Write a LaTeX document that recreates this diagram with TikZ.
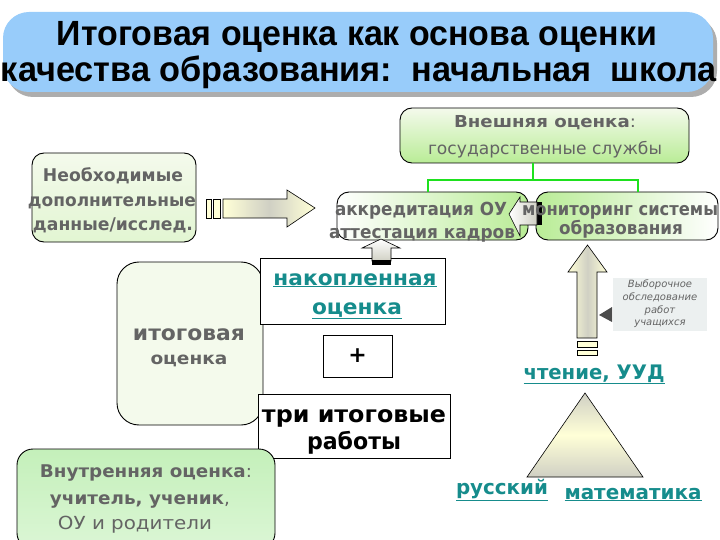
\documentclass[tikz,border=0pt]{standalone}
\usepackage{fontspec}
\setmainfont{DejaVu Sans}
\newfontfamily\titlefont{Liberation Sans}
\usetikzlibrary{shadows,calc}
\definecolor{titleblue}{RGB}{152,204,250}
\definecolor{txtgray}{RGB}{100,100,100}
\definecolor{linkteal}{RGB}{22,140,140}
\definecolor{lgreen}{RGB}{30,225,30}
\definecolor{boxgreen}{RGB}{185,236,150}
\definecolor{palegreen}{RGB}{244,250,236}
\definecolor{midgreen}{RGB}{196,240,186}
\definecolor{arrowgray}{RGB}{208,208,196}
\definecolor{arrowyel}{RGB}{255,255,215}
\definecolor{callgray}{RGB}{236,240,240}
\newcommand{\fw}[2]{\resizebox{#1pt}{\height}{#2}}
\tikzset{
  rbox/.style={draw=black, line width=0.9pt, rounded corners=12pt, inner sep=0pt},
  sbox/.style={draw=black, line width=0.8pt, fill=white, inner sep=0pt},
  gtxt/.style={text=txtgray, inner sep=0pt, anchor=base},
  ltxt/.style={text=linkteal, inner sep=0pt, anchor=base, font=\bfseries\fontsize{21}{24}\selectfont},
  blockarrow/.style={draw=black, line width=0.6pt},
  ttl/.style={anchor=base, inner sep=0pt, font=\titlefont\bfseries\fontsize{35}{40}\selectfont},
}
\begin{document}
\begin{tikzpicture}[x=1pt,y=-1pt]
\useasboundingbox (0,0) rectangle (720,540);
% title banner
\node[fill=titleblue, rounded corners=26pt, minimum width=710pt, minimum height=80pt, inner sep=0pt,
  drop shadow={shadow xshift=4pt, shadow yshift=-5pt, fill=black!40, opacity=0.8}] (title) at (358,52) {};
\node[ttl] (t1) at (357,46) {\fw{600}{Итоговая оценка как основа оценки}};
\node[ttl] (t2) at (359,82) {\fw{716}{качества образования:\ \ начальная\ \ школа}};

% external evaluation
\node[rbox, top color=palegreen, bottom color=boxgreen, minimum width=289pt, minimum height=55pt] (ext) at (544.5,135.5) {};
\node[gtxt, font=\bfseries\fontsize{16.5}{19}\selectfont] (ext1) at (545,128) {\fw{182}{Внешняя оценка\textmd{:}}};
\node[gtxt, font=\fontsize{17}{20}\selectfont] (ext2) at (545,155) {\fw{234}{государственные службы}};

% accreditation and monitoring boxes
\node[rbox, left color=white, right color=boxgreen, minimum width=191pt, minimum height=48pt] (akk) at (432.5,216) {};
\node[rbox, left color=boxgreen, right color=white, minimum width=182pt, minimum height=48pt] (mon) at (627,216) {};
\coordinate (split) at (533,180);
\draw[lgreen, line width=2.6pt] (ext.south -| split) -- (split);
\draw[lgreen, line width=2.6pt] (akk.north -| 428,0) |- (split) -| (mon.north -| 638,0);

% left arrow from mon to akk
\fill[black] (537,202) rectangle (542,225);
\path[blockarrow, left color=white, right color=arrowgray]
  (537,202) -- (520,202) -- (520,197) -- (509,214) -- (520,236) -- (520,225) -- (537,225) -- cycle;

\node[gtxt, font=\bfseries\fontsize{18}{21}\selectfont] (akk1) at (421,215) {\fw{172}{аккредитация ОУ}};
\node[gtxt, font=\bfseries\fontsize{18}{21}\selectfont] (akk2) at (422,238) {\fw{186}{аттестация кадров}};
\node[gtxt, font=\bfseries\fontsize{18}{21}\selectfont] (mon1) at (620,215) {\fw{196}{мониторинг системы}};
\node[gtxt, font=\bfseries\fontsize{18}{21}\selectfont] (mon2) at (621,235) {\fw{124}{образования}};

% needed data box
\node[rbox, top color=palegreen, bottom color=palegreen!70!boxgreen, minimum width=164pt, minimum height=89pt] (need) at (114,197.5) {};
\node[gtxt, font=\bfseries\fontsize{17.5}{20}\selectfont] (n1) at (113,182) {\fw{140}{Необходимые}};
\node[gtxt, font=\bfseries\fontsize{17.5}{20}\selectfont] (n2) at (112,207) {\fw{168}{дополнительные}};
\node[gtxt, font=\bfseries\fontsize{17.5}{20}\selectfont] (n3) at (113,230) {\fw{160}{данные/исслед.}};

% big right arrow
\path[blockarrow, left color=arrowyel, right color=arrowyel, middle color=arrowgray]
  (223,199) -- (287,199) -- (287,190) -- (315,208) -- (287,227) -- (287,218) -- (223,218) -- cycle;
\draw[blockarrow, fill=arrowyel] (206,199) rectangle (211,218);
\draw[blockarrow, fill=arrowyel] (213,199) rectangle (220,218);

% final grade box
\node[rbox, rounded corners=22pt, fill=palegreen, minimum width=146pt, minimum height=163pt] (itog) at (190,343.5) {};
\node[gtxt, font=\bfseries\fontsize{21}{24}\selectfont] (i1) at (189,340) {\fw{112}{итоговая}};
\node[gtxt, font=\bfseries\fontsize{17}{20}\selectfont] (i2) at (189,364) {\fw{77}{оценка}};

% cumulative box
\node[sbox, minimum width=185pt, minimum height=66pt] (nak) at (352.5,291) {};
\node[ltxt] (nak1) at (355,285) {\fw{163}{\underline{накопленная}}};
\node[ltxt] (nak2) at (357,314) {\fw{90}{\underline{оценка}}};

% up arrow nak -> akk
\path[blockarrow, top color=white, bottom color=arrowgray]
  (372,261) -- (372,248) -- (362,248) -- (381,239) -- (400,248) -- (391,248) -- (391,261) -- cycle;
\fill[black] (372,260) rectangle (391,265);

% plus box
\node[sbox, minimum width=69pt, minimum height=42pt, font=\bfseries\fontsize{22}{24}\selectfont] (plus) at (357.5,356) {+};

% three works box
\node[sbox, minimum width=192pt, minimum height=64pt] (three) at (354,426) {};
\node[anchor=base, inner sep=0pt, font=\bfseries\fontsize{23}{26}\selectfont] (th1) at (354,422) {\fw{184}{три итоговые}};
\node[anchor=base, inner sep=0pt, font=\bfseries\fontsize{23}{26}\selectfont] (th2) at (354,449) {\fw{94}{работы}};

% internal evaluation
\node[rbox, rounded corners=16pt, top color=midgreen, bottom color=midgreen!60!white, minimum width=258pt, minimum height=100pt] (int) at (146,499) {};
\node[gtxt, font=\bfseries\fontsize{17.5}{20}\selectfont] (in1) at (146,477) {\fw{212}{Внутренняя оценка\textmd{:}}};
\node[gtxt, font=\bfseries\fontsize{17.5}{20}\selectfont] (in2) at (140,504) {\fw{180}{учитель, ученик\textmd{,}}};
\node[gtxt, font=\fontsize{18}{21}\selectfont] (in3) at (135,529) {\fw{154}{ОУ и родители}};

% up arrow to monitoring
\path[blockarrow, left color=arrowyel, right color=arrowyel, middle color=arrowgray]
  (577,338) -- (577,272) -- (568,272) -- (587.5,245) -- (607,272) -- (597,272) -- (597,338) -- cycle;
\draw[blockarrow, fill=arrowyel] (577,341) rectangle (597,347);
\draw[blockarrow, fill=arrowyel] (577,350) rectangle (597,355);

% callout
\node[fill=callgray, minimum width=94pt, minimum height=53pt, inner sep=0pt] (call) at (660,304) {};
\fill[black!70] (599,315) -- (612,307) -- (612,322) -- cycle;
\node[text=txtgray, inner sep=0pt, align=center, font=\itshape\fontsize{10}{12.7}\selectfont] (calltxt) at (660,304)
  {Выборочное\\обследование\\работ\\учащихся};

\node[ltxt, font=\bfseries\fontsize{20}{23}\selectfont] (read) at (594,379) {\fw{141}{\underline{чтение, УУД}}};

% triangle
\path[draw=black, line width=0.6pt, top color=arrowgray, bottom color=arrowgray, middle color=arrowyel]
  (585,393) -- (643,477) -- (527,477) -- cycle;
\node[ltxt, font=\bfseries\fontsize{20}{22}\selectfont] (rus) at (502,494) {\fw{92}{\underline{русский}}};
\node[ltxt, font=\bfseries\fontsize{20}{22}\selectfont] (math) at (633,499) {\fw{137}{\underline{математика}}};
\end{tikzpicture}
\end{document}
